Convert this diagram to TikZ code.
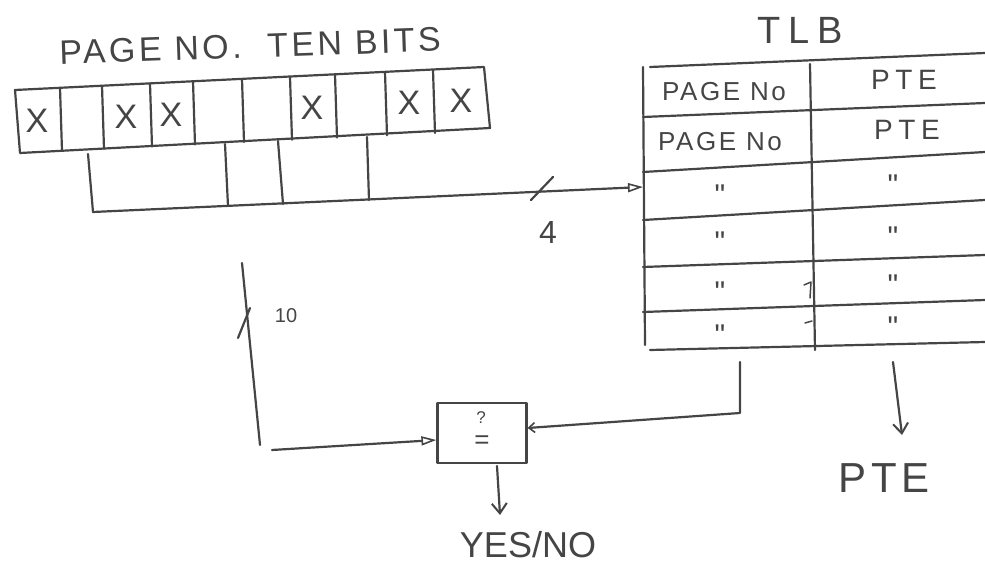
\documentclass[tikz,border=0pt]{standalone}
\usepackage{fontspec}
\setmainfont{Liberation Sans}
\usetikzlibrary{arrows.meta}
\definecolor{pen}{HTML}{454545}
\tikzset{
  ink/.style={draw=pen, line width=2.2pt, line cap=round, line join=round},
  hand/.style={text=pen, inner sep=0pt},
  openarrow/.style={ink, -{Triangle[open, length=15pt, width=9pt, line width=1.6pt]}},
  barb/.style={ink, -{Straight Barb[length=10pt, width=15pt, line width=2pt]}},
  smallbarb/.style={ink, -{Straight Barb[length=6pt, width=10pt, line width=1.6pt]}},
}
\newfontfamily\handA[LetterSpace=10]{Liberation Sans}
\newfontfamily\handB[LetterSpace=20]{Liberation Sans}
\newfontfamily\rawfont[Ligatures=TeXOff]{Liberation Sans}
\begin{document}
\begin{tikzpicture}[x=1pt, y=-1pt]
\useasboundingbox (0,0) rectangle (985,577);

% title above the register
\node[hand, font=\handA\fontsize{34}{36}\selectfont, rotate=2] (title) at (250,46) {PAGE NO.\ \ TEN BITS};

% register of ten bits (slanted, drawn directly)
\draw[ink] (15,90) -- (484,67) -- (490,128) -- (20,153) -- cycle;
\foreach \x in {60,102,150,193,242,290,335,385,433}
  \draw[ink] (\x,{90-0.048*(\x-15)}) -- (\x+2,{153-0.048*(\x-15)});
\foreach \x/\n in {37/x1,126/x2,171/x3,312/x4,409/x5,461/x6}
  \node[hand, font=\fontsize{34}{34}\selectfont] (\n) at (\x,{122-0.048*(\x-15)}) {X};

% lower box under the register
\coordinate (lowtl) at (88,154);
\coordinate (lowbl) at (93,212);
\draw[ink] (lowtl) -- (lowbl);
\draw[ink] (225,144) -- (228,206);
\draw[ink] (278,141) -- (283,204);
\draw[ink] (367,137) -- (369,200);

% TLB
\node[hand, font=\handB\fontsize{38}{40}\selectfont] (tlbtitle) at (800,30) {TLB};
\draw[ink] (643,67) -- (645,345);
\draw[ink] (810,64) -- (815,350);
\draw[ink] (650,67) -- (985,53);
\draw[ink] (643,117) -- (985,103);
\draw[ink] (643,172) -- (985,152);
\draw[ink] (643,220) -- (985,200);
\draw[ink] (643,267) -- (985,255);
\draw[ink] (643,312) -- (985,300);
\draw[ink] (650,350) -- (985,342);
% small marks on the divider
\draw[ink, line width=1.5pt] (804,285) -- (811,282) -- (810,298);
\draw[ink, line width=1.5pt] (805,323) -- (812,321);

\node[hand, font=\handA\fontsize{26}{28}\selectfont] (pn1) at (724,92) {PAGE No};
\node[hand, font=\handB\fontsize{28}{30}\selectfont] (pte1) at (904,80) {PTE};
\node[hand, font=\handA\fontsize{26}{28}\selectfont] (pn2) at (720,142) {PAGE No};
\node[hand, font=\handB\fontsize{28}{30}\selectfont] (pte2) at (907,130) {PTE};
\foreach \y/\n in {195/d1,242/d2,292/d3,335/d4}
  \node[hand, font=\rawfont\fontsize{30}{30}\selectfont] (l\n) at (720,\y) {"};
\foreach \y/\n in {185/d1,237/d2,285/d3,327/d4}
  \node[hand, font=\rawfont\fontsize{30}{30}\selectfont] (r\n) at (893,\y) {"};

% arrow from the lower box into the TLB (4 bits)
\coordinate (tlbin) at (643,187);
\draw[openarrow] (lowbl) -- (tlbin);
\draw[ink] (531,200) -- (553,177);
\node[hand, font=\fontsize{32}{32}\selectfont] (four) at (548,232) {4};

% ten bit line into the comparator
\coordinate (tentop) at (242,263);
\coordinate (tenbot) at (260,445);
\draw[ink] (tentop) -- (tenbot);
\draw[ink] (238,338) -- (250,308);
\node[hand, font=\fontsize{20}{20}\selectfont] (ten) at (286,316) {10};

% comparator
\node[ink, minimum width=89pt, minimum height=60pt, inner sep=0pt] (cmp) at (482,433) {};
\node[hand, font=\fontsize{17}{17}\selectfont] (q) at (481,418) {?};
\node[hand, font=\fontsize{26}{26}\selectfont] (eq) at (482,442) {=};

\coordinate (lin) at (272,450);
\draw[openarrow] (lin) -- ([yshift=-7pt]cmp.west);

\coordinate (tlbout) at (740,362);
\draw[smallbarb] (tlbout) -- (740,413) -- ([yshift=5pt]cmp.east);

% yes/no output
\node[hand, font=\fontsize{36}{38}\selectfont] (yn) at (528,545) {YES/NO};
\coordinate (cmpout) at (497,466);
\draw[barb] (cmpout) -- (500,515);

% PTE output
\node[hand, font=\handA\fontsize{42}{44}\selectfont] (pte) at (884,478) {PTE};
\coordinate (pteout) at (893,362);
\draw[barb] (pteout) -- (902,435);
\end{tikzpicture}
\end{document}
